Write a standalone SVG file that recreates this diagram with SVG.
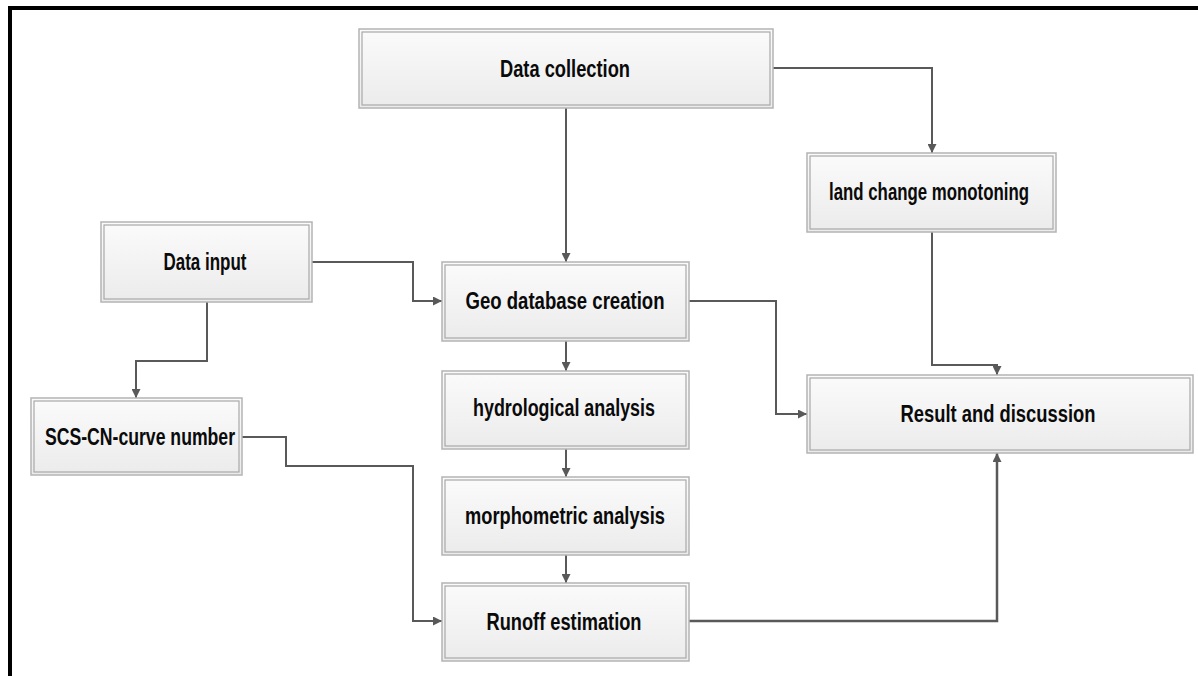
<svg xmlns="http://www.w3.org/2000/svg" width="1198" height="676" viewBox="0 0 1198 676">
<defs>
<linearGradient id="g" x1="0" y1="0" x2="0" y2="1">
<stop offset="0" stop-color="#fbfbfb"/>
<stop offset="1" stop-color="#ebebeb"/>
</linearGradient>
<marker id="a" viewBox="0 0 10 10" refX="10" refY="5" markerWidth="9" markerHeight="9" markerUnits="userSpaceOnUse" orient="auto">
<path d="M0,0 L10,5 L0,10 z" fill="#595959"/>
</marker>
</defs>
<style>
.o{fill:url(#g);stroke:#b4b4b4;stroke-width:1.5}
.i{fill:none;stroke:#a8a8a8;stroke-width:1.2}
.t{font-family:"Liberation Sans",Arial,sans-serif;font-weight:bold;font-size:23px;fill:#0a0a0a;text-anchor:middle}
.c{fill:none;stroke:#595959;stroke-width:2;marker-end:url(#a)}
</style>
<rect x="0" y="0" width="1198" height="676" fill="#fff"/>
<path d="M10,676 L10,8 L1198,8" fill="none" stroke="#000" stroke-width="4"/>
<g id="connectors">
<path class="c" d="M566,108 L566,262"/>
<path class="c" d="M773,68 L932,68 L932,153"/>
<path class="c" d="M312,262 L413,262 L413,301 L442,301"/>
<path class="c" d="M207,302 L207,361 L136,361 L136,398"/>
<path class="c" d="M242,437 L286,437 L286,466 L413,466 L413,621 L442,621"/>
<path class="c" d="M689,301 L776,301 L776,414 L807,414"/>
<path class="c" d="M932,232 L932,365 L997,365 L997,375"/>
<path class="c" d="M689,621 L997,621 L997,453" style="stroke-width:2.5"/>
<path class="c" d="M566,341 L566,371"/>
<path class="c" d="M566,449 L566,477"/>
<path class="c" d="M566,555 L566,583"/>
</g>
<g id="data-collection">
<rect class="o" x="359" y="29" width="414" height="79"/>
<rect class="i" x="362" y="32" width="408" height="73"/>
<text class="t" x="565" y="77" textLength="130" lengthAdjust="spacingAndGlyphs">Data collection</text>
</g>
<g id="data-input">
<rect class="o" x="101" y="222" width="211" height="80"/>
<rect class="i" x="104" y="225" width="205" height="74"/>
<text class="t" x="205" y="270" textLength="83" lengthAdjust="spacingAndGlyphs">Data input</text>
</g>
<g id="scs-cn">
<rect class="o" x="31" y="398" width="211" height="77"/>
<rect class="i" x="34" y="401" width="205" height="71"/>
<text class="t" x="140" y="445" textLength="190" lengthAdjust="spacingAndGlyphs">SCS-CN-curve number</text>
</g>
<g id="land-change">
<rect class="o" x="807" y="153" width="249" height="79"/>
<rect class="i" x="810" y="156" width="243" height="73"/>
<text class="t" x="929" y="200" textLength="200" lengthAdjust="spacingAndGlyphs">land change monotoning</text>
</g>
<g id="geo-database">
<rect class="o" x="442" y="262" width="247" height="79"/>
<rect class="i" x="445" y="265" width="241" height="73"/>
<text class="t" x="565" y="309" textLength="199" lengthAdjust="spacingAndGlyphs">Geo database creation</text>
</g>
<g id="hydrological">
<rect class="o" x="442" y="371" width="247" height="78"/>
<rect class="i" x="445" y="374" width="241" height="72"/>
<text class="t" x="564" y="416" textLength="182" lengthAdjust="spacingAndGlyphs">hydrological analysis</text>
</g>
<g id="morphometric">
<rect class="o" x="442" y="477" width="247" height="78"/>
<rect class="i" x="445" y="480" width="241" height="72"/>
<text class="t" x="565" y="524" textLength="200" lengthAdjust="spacingAndGlyphs">morphometric analysis</text>
</g>
<g id="runoff">
<rect class="o" x="442" y="583" width="247" height="78"/>
<rect class="i" x="445" y="586" width="241" height="72"/>
<text class="t" x="564" y="630" textLength="155" lengthAdjust="spacingAndGlyphs">Runoff estimation</text>
</g>
<g id="result">
<rect class="o" x="807" y="375" width="386" height="78"/>
<rect class="i" x="810" y="378" width="380" height="72"/>
<text class="t" x="998" y="422" textLength="195" lengthAdjust="spacingAndGlyphs">Result and discussion</text>
</g>
</svg>
